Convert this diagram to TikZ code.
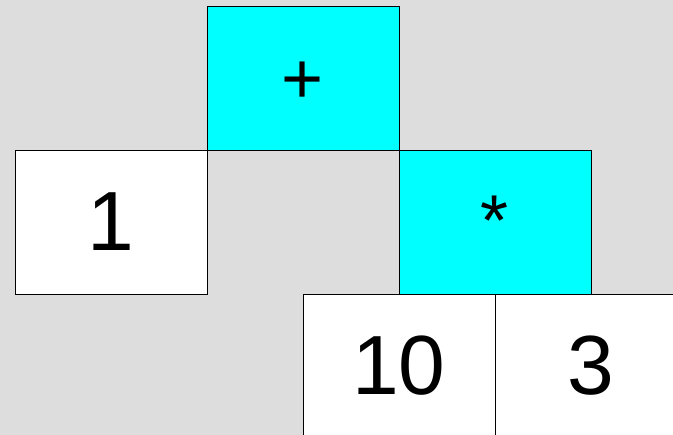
\documentclass[tikz,border=0pt]{standalone}
\usepackage{fontspec}
\setmainfont{Liberation Sans}
\definecolor{bggray}{HTML}{DDDDDD}
\definecolor{opcyan}{HTML}{00FFFF}
\begin{document}
\begin{tikzpicture}[x=1pt,y=-1pt,
  cell/.style={draw=black,line width=0.9pt,minimum width=192pt,minimum height=144pt,inner sep=0pt,outer sep=0pt,anchor=north west},
  opcell/.style={cell,fill=opcyan,font=\fontsize{72}{72}\selectfont},
  numcell/.style={cell,fill=white,font=\fontsize{84}{84}\selectfont}]
\clip (0,0) rectangle (673,435);
\fill[bggray] (0,0) rectangle (673,435);
\node[opcell] (plus) at (207,6) {\raisebox{-26pt}[0pt][0pt]{+}};
\node[opcell] (times) at (399,150) {\raisebox{-24pt}[0pt][0pt]{*}};
\node[numcell] (one) at (15,150) {1};
\node[numcell] (ten) at (303,294) {10};
\node[numcell] (three) at (495,294) {3};
\end{tikzpicture}
\end{document}
